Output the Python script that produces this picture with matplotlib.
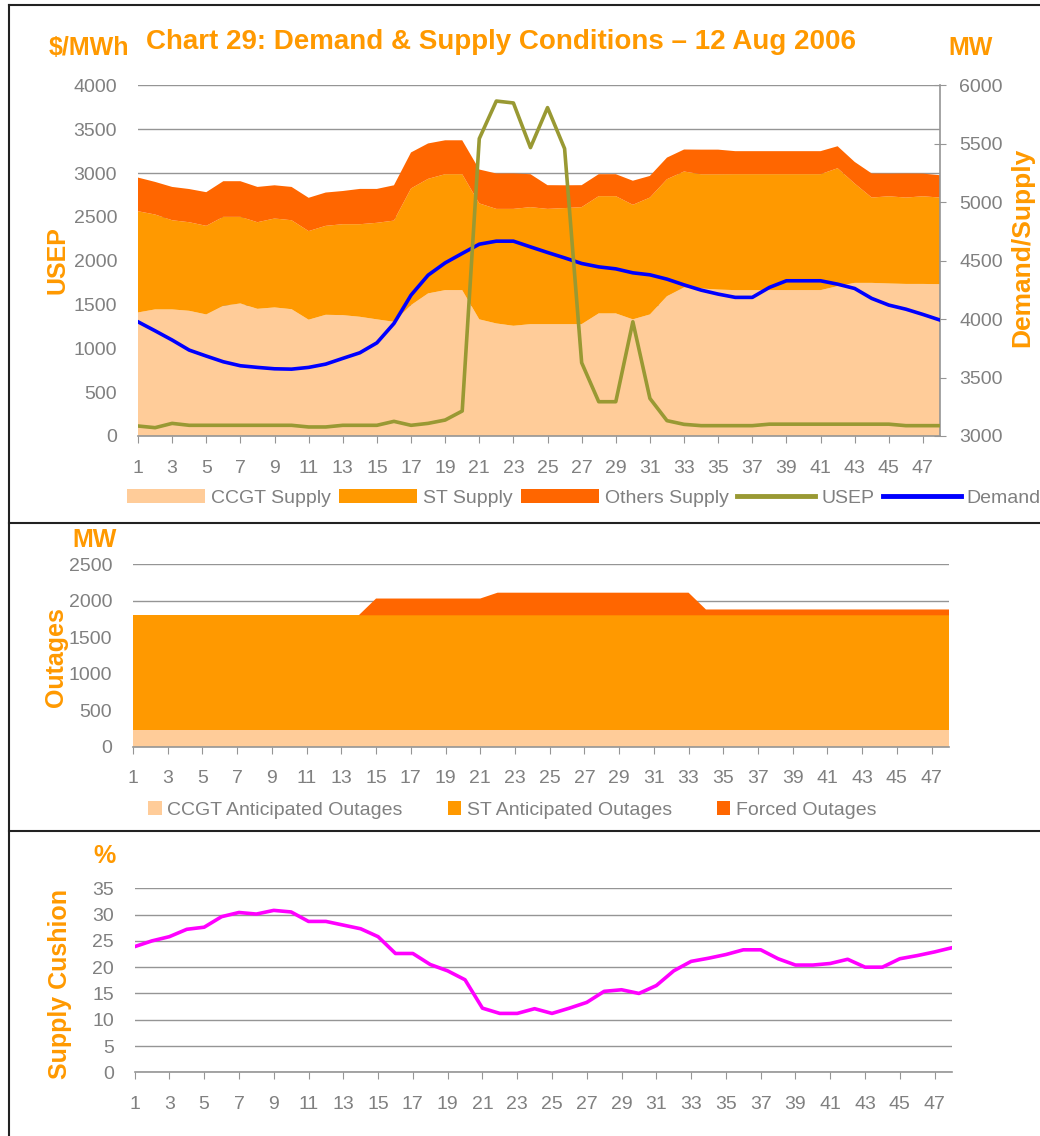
"""Demand & supply conditions chart, 12 Aug 2006."""
import matplotlib
matplotlib.use("Agg")
import matplotlib.pyplot as plt
from matplotlib.lines import Line2D
from matplotlib.patches import Patch
from matplotlib.ticker import FixedLocator, MultipleLocator

W, H = 1040, 1136

plt.rcParams['font.family'] = ['Liberation Sans', 'DejaVu Sans']

ORANGE = '#FF9900'
GREY_TXT = '#808080'
GRID = '#959595'

periods = list(range(1, 49))
period_ticks = list(range(1, 48, 2))

# MW, stacked
ccgt_supply = [4057, 4083, 4083, 4071, 4040, 4114, 4134, 4088, 4100, 4085, 3995, 4037,
               4034, 4020, 3998, 3977, 4120, 4220, 4248, 4248, 3998, 3963, 3943, 3957,
               3957, 3957, 3957, 4049, 4049, 3998, 4040, 4196, 4271, 4262, 4253, 4248,
               4248, 4248, 4248, 4248, 4248, 4282, 4310, 4310, 4305, 4301, 4301, 4299]
st_supply = [866, 812, 763, 758, 758, 761, 741, 741, 761, 761, 758, 761,
             778, 792, 826, 866, 998, 980, 992, 992, 992, 980, 1000, 1001,
             986, 993, 1001, 1003, 1003, 980, 1000, 1001, 992, 977, 986, 992,
             992, 992, 992, 992, 992, 1009, 850, 730, 746, 739, 750, 741]
others_supply = [288, 279, 285, 284, 288, 305, 305, 302, 284, 285, 285, 285,
                 284, 302, 290, 302, 308, 303, 290, 290, 290, 303, 303, 282,
                 203, 195, 188, 188, 188, 206, 185, 185, 188, 211, 211, 197,
                 197, 197, 197, 197, 197, 188, 185, 206, 194, 206, 194, 191]
demand = [3977, 3900, 3821, 3735, 3684, 3635, 3601, 3587, 3575, 3572, 3587, 3615,
          3664, 3712, 3797, 3963, 4205, 4376, 4481, 4562, 4641, 4667, 4667, 4618,
          4570, 4524, 4476, 4447, 4430, 4396, 4379, 4342, 4293, 4248, 4214, 4186,
          4186, 4271, 4328, 4328, 4328, 4299, 4262, 4177, 4120, 4085, 4040, 3992]
# $/MWh
usep = [114, 95, 144, 122, 122, 122, 122, 122, 122, 122, 103, 103,
        122, 122, 122, 167, 122, 144, 182, 285, 3392, 3821, 3799, 3290,
        3746, 3278, 836, 391, 391, 1303, 429, 175, 133, 118, 118, 118,
        118, 135, 135, 135, 135, 135, 135, 135, 135, 118, 118, 118]

# outages, MW
ccgt_outages = [230, 230, 230, 230, 230, 230, 230, 230, 230, 230, 230, 230,
                230, 230, 230, 230, 230, 230, 230, 230, 230, 230, 230, 230,
                230, 230, 230, 230, 230, 230, 230, 230, 230, 230, 230, 230,
                230, 230, 230, 230, 230, 230, 230, 230, 230, 230, 230, 230]
st_outages = [1570, 1570, 1570, 1570, 1570, 1570, 1570, 1570, 1570, 1570, 1570, 1570,
              1570, 1570, 1570, 1570, 1570, 1570, 1570, 1570, 1570, 1570, 1570, 1570,
              1570, 1570, 1570, 1570, 1570, 1570, 1570, 1570, 1570, 1570, 1570, 1570,
              1570, 1570, 1570, 1570, 1570, 1570, 1570, 1570, 1570, 1570, 1570, 1570]
forced_outages = [0, 0, 0, 0, 0, 0, 0, 0, 0, 0, 0, 0,
                  0, 0, 230, 230, 230, 230, 230, 230, 230, 310, 310, 310,
                  310, 310, 310, 310, 310, 310, 310, 310, 310, 80, 80, 80,
                  80, 80, 80, 80, 80, 80, 80, 80, 80, 80, 80, 80]

# supply cushion, %
cushion = [23.9, 25.0, 25.8, 27.2, 27.6, 29.6, 30.4, 30.1, 30.8, 30.5, 28.7, 28.7,
           28.0, 27.3, 25.8, 22.6, 22.6, 20.5, 19.3, 17.6, 12.2, 11.2, 11.2, 12.1,
           11.2, 12.2, 13.3, 15.4, 15.7, 15.0, 16.5, 19.3, 21.1, 21.7, 22.4, 23.3,
           23.3, 21.6, 20.4, 20.4, 20.7, 21.5, 20.0, 20.0, 21.6, 22.2, 22.9, 23.7]

supply_colors = ['#FFCC99', '#FF9900', '#FF6600']


def px_axes(fig, x0, y0, x1, y1):
    """Axes from pixel box (top-left origin)."""
    return fig.add_axes([x0 / W, 1 - y1 / H, (x1 - x0) / W, (y1 - y0) / H])


def fig_text(fig, x, y, s, **kw):
    fig.text(x / W, 1 - y / H, s, **kw)


def style_xaxis(ax):
    ax.set_xlim(1, 48)
    ax.xaxis.set_major_locator(FixedLocator(period_ticks))
    ax.tick_params(axis='x', direction='out', length=5, color=GRID,
                   labelsize=14, labelcolor=GREY_TXT, pad=12)
    for side in ('top', 'left', 'right'):
        ax.spines[side].set_visible(False)
    ax.spines['bottom'].set_color(GRID)
    ax.spines['bottom'].set_linewidth(1.2)


fig = plt.figure(figsize=(W / 100, H / 100), dpi=100)

# ---- panel 1: supply areas + demand (MW, right), USEP ($/MWh, left)
ax = px_axes(fig, 138, 85, 940, 436)
polys = ax.stackplot(periods, ccgt_supply, st_supply, others_supply,
                     colors=supply_colors, linewidth=0)
ln_dem, = ax.plot(periods, demand, color='#0000FF', lw=2.6, zorder=4)
ax.set_ylim(3000, 6003)
style_xaxis(ax)

ax2 = ax.twinx()
ln_usep, = ax2.plot(periods, usep, color='#999933', lw=2.6, zorder=5)
ax2.set_ylim(0, 4004)
ax2.yaxis.tick_left()
ax2.yaxis.set_label_position('left')
ax2.yaxis.set_major_locator(MultipleLocator(500))
ax2.tick_params(axis='y', length=0, labelsize=14, labelcolor=GREY_TXT, pad=15)
for s in ax2.spines.values():
    s.set_visible(False)

# MW scale on the right; twinx resets this, so set it afterwards
ax.yaxis.tick_right()
ax.yaxis.set_major_locator(MultipleLocator(500))
# gridlines follow the $/MWh scale (every 500 $/MWh), drawn below the areas
ax.yaxis.remove_overlapping_locs = False
ax.yaxis.set_minor_locator(FixedLocator([3000 + 375 * k for k in range(9)]))
ax.grid(True, axis='y', which='minor', color=GRID, lw=1.0)
ax.set_axisbelow(True)
ax.tick_params(axis='y', which='major', direction='inout', length=8, color=GRID,
               labelsize=14, labelcolor=GREY_TXT, pad=10, left=False, labelleft=False,
               right=True, labelright=True)
ax.tick_params(axis='y', which='minor', length=0, left=False, right=False)
ax.spines['right'].set_visible(True)
ax.spines['right'].set_color(GRID)
ax.spines['right'].set_linewidth(1.2)

handles = [Patch(facecolor=c, edgecolor='none') for c in supply_colors] + [
    Line2D([], [], color='#999933', lw=3.5), Line2D([], [], color='#0000FF', lw=3.5)]
labels = ['CCGT Supply', 'ST Supply', 'Others Supply', 'USEP', 'Demand']
fig.legend(handles, labels, ncol=5, loc='center left',
           bbox_to_anchor=(127 / W, 1 - 498 / H), frameon=False,
           fontsize=14, labelcolor=GREY_TXT, handlelength=4.0, handleheight=0.75,
           handletextpad=0.3, columnspacing=0.45, borderpad=0, borderaxespad=0)

fig_text(fig, 501, 42, 'Chart 29: Demand & Supply Conditions \u2013 12 Aug 2006',
         color=ORANGE, fontsize=20, fontweight='bold', ha='center', va='center')
fig_text(fig, 89, 48, '$/MWh', color=ORANGE, fontsize=18, fontweight='bold',
         ha='center', va='center')
fig_text(fig, 971, 48, 'MW', color=ORANGE, fontsize=18, fontweight='bold',
         ha='center', va='center')
fig_text(fig, 57, 260, 'USEP', color=ORANGE, fontsize=18, fontweight='bold',
         ha='center', va='center', rotation=90)
fig_text(fig, 1022, 247, 'Demand/Supply', color=ORANGE, fontsize=19,
         fontweight='bold', ha='center', va='center', rotation=90)

# ---- panel 2: outages
axo = px_axes(fig, 133, 564, 949, 746.7)
out_colors = ['#FFCC99', '#FF9900', '#FF6600']
axo.stackplot(periods, ccgt_outages, st_outages, forced_outages,
              colors=out_colors, linewidth=0)
axo.set_ylim(0, 2503)
axo.yaxis.set_major_locator(MultipleLocator(500))
axo.grid(True, axis='y', color=GRID, lw=1.0)
axo.set_axisbelow(True)
axo.tick_params(axis='y', length=0, labelsize=14, labelcolor=GREY_TXT, pad=15)
style_xaxis(axo)
fig.legend([Patch(facecolor=c, edgecolor='none') for c in out_colors],
           ['CCGT Anticipated Outages', 'ST Anticipated Outages', 'Forced Outages'],
           ncol=3, loc='center left', bbox_to_anchor=(148 / W, 1 - 810 / H),
           frameon=False, fontsize=14, labelcolor=GREY_TXT, handlelength=0.7,
           handleheight=0.7, handletextpad=0.3, columnspacing=2.3,
           borderpad=0, borderaxespad=0)
fig_text(fig, 95, 540, 'MW', color=ORANGE, fontsize=18, fontweight='bold',
         ha='center', va='center')
fig_text(fig, 56, 657, 'Outages', color=ORANGE, fontsize=18, fontweight='bold',
         ha='center', va='center', rotation=90)

# ---- panel 3: supply cushion
axc = px_axes(fig, 134.6, 888.3, 952, 1072.3)
axc.plot(periods, cushion, color='#FF00FF', lw=2.6)
axc.set_ylim(0, 35)
axc.yaxis.set_major_locator(MultipleLocator(5))
axc.grid(True, axis='y', color=GRID, lw=1.0)
axc.set_axisbelow(True)
axc.tick_params(axis='y', length=0, labelsize=14, labelcolor=GREY_TXT, pad=15)
style_xaxis(axc)
fig_text(fig, 104, 856, '%', color=ORANGE, fontsize=18, fontweight='bold',
         ha='center', va='center')
fig_text(fig, 60, 984, 'Supply Cushion', color=ORANGE, fontsize=18,
         fontweight='bold', ha='center', va='center', rotation=90)

# panel frames
for (xa, ya), (xb, yb) in [((8.5, 5), (W, 5)), ((8.5, 5), (8.5, H)),
                           ((8.5, 523), (W, 523)), ((8.5, 831), (W, 831))]:
    fig.add_artist(Line2D([xa / W, xb / W], [1 - ya / H, 1 - yb / H],
                          transform=fig.transFigure, color='#222222', lw=1.5))

fig.savefig('out.png', dpi=100)
